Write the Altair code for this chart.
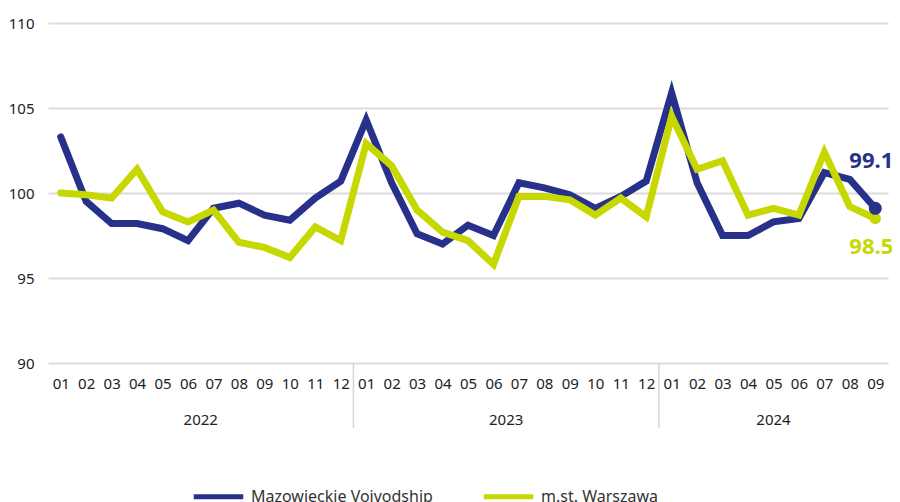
import json
import altair as alt
import pandas as pd

years = ["2022"] * 12 + ["2023"] * 12 + ["2024"] * 9
months = [f"{m:02d}" for m in range(1, 13)] * 2 + [f"{m:02d}" for m in range(1, 10)]

mazowieckie = [103.3, 99.5, 98.2, 98.2, 97.9, 97.2, 99.1, 99.4, 98.7, 98.4, 99.7, 100.7,
               104.3, 100.6, 97.6, 97.0, 98.1, 97.5, 100.6, 100.3, 99.9, 99.1, 99.8, 100.7,
               105.9, 100.6, 97.5, 97.5, 98.3, 98.5, 101.2, 100.8, 99.1]
warszawa = [100.0, 99.9, 99.7, 101.4, 98.9, 98.3, 99.0, 97.1, 96.8, 96.2, 98.0, 97.2,
            102.9, 101.6, 99.0, 97.7, 97.2, 95.8, 99.8, 99.8, 99.6, 98.7, 99.7, 98.6,
            104.5, 101.4, 101.9, 98.7, 99.1, 98.7, 102.4, 99.2, 98.5]

series_names = ["Mazowieckie Voivodship", "m.st. Warszawa"]
series_colors = ["#283189", "#C6D800"]

rows = []
for i, (y, m) in enumerate(zip(years, months)):
    rows.append({"idx": i, "year": y, "month": m, "series": series_names[0], "value": mazowieckie[i]})
    rows.append({"idx": i, "year": y, "month": m, "series": series_names[1], "value": warszawa[i]})
df = pd.DataFrame(rows)

base_idx = pd.DataFrame({"idx": list(range(len(years))), "year": years})
year_df = base_idx.groupby("year", as_index=False)["idx"].mean()
sep_df = base_idx.groupby("year", as_index=False)["idx"].min().iloc[1:].copy()
sep_df["idx"] = sep_df["idx"] - 0.5

FONT = "Noto Sans"
W, H = 840, 340

x_axis = alt.Axis(
    values=list(range(len(months))),
    labelExpr=f"{json.dumps(months)}[datum.value]",
    title=None, grid=False, ticks=False, domain=False,
    labelPadding=13, labelFontSize=15, labelColor="#222222", labelFont=FONT,
    labelFlush=False, labelOverlap=False,
)
x_scale = alt.Scale(domain=[-0.5, len(months) - 0.5], nice=False, zero=False)


def X():
    return alt.X("idx:Q", scale=x_scale, axis=x_axis)


color_scale = alt.Scale(domain=series_names, range=series_colors)
legend = alt.Legend(
    title=None, orient="none", legendX=143, legendY=446, direction="horizontal",
    symbolType="stroke", symbolStrokeWidth=5, symbolSize=2450,
    labelFontSize=16, labelColor="#333333", labelFont=FONT, labelOffset=5,
    columnPadding=40, labelLimit=400, padding=0,
)
color = alt.Color("series:N", scale=color_scale, legend=legend)

y_enc = alt.Y(
    "value:Q",
    scale=alt.Scale(domain=[90, 110], nice=False, zero=False),
    axis=alt.Axis(
        values=[90, 95, 100, 105, 110], title=None, ticks=False, domain=False,
        grid=True, gridColor="#dcdcdc", gridWidth=2,
        labelPadding=14, labelFontSize=15, labelColor="#222222", labelFont=FONT,
    ),
)

line_m = alt.Chart(df).transform_filter(
    alt.datum.series == series_names[0]
).mark_line(strokeWidth=7, strokeCap="round").encode(x=X(), y=y_enc, color=color)

line_w = alt.Chart(df).transform_filter(
    alt.datum.series == series_names[1]
).mark_line(strokeWidth=7, strokeCap="round").encode(x=X(), y=y_enc, color=color)

last = len(months) - 1
dot_w = alt.Chart(df).transform_filter(
    (alt.datum.idx == last) & (alt.datum.series == series_names[1])
).mark_circle(size=130, opacity=1).encode(x=X(), y=y_enc, color=color)

dot_m = alt.Chart(df).transform_filter(
    (alt.datum.idx == last) & (alt.datum.series == series_names[0])
).mark_circle(size=170, opacity=1).encode(x=X(), y=y_enc, color=color)

lab_m = alt.Chart(df).transform_filter(
    (alt.datum.idx == last) & (alt.datum.series == series_names[0])
).mark_text(dy=-47, dx=-4, fontSize=22, fontWeight="bold", font=FONT, align="center",
            baseline="middle", color=series_colors[0]).encode(
    x=X(), y=y_enc, text=alt.Text("value:Q", format=".1f"))

lab_w = alt.Chart(df).transform_filter(
    (alt.datum.idx == last) & (alt.datum.series == series_names[1])
).mark_text(dy=28, dx=-4, fontSize=22, fontWeight="bold", font=FONT, align="center",
            baseline="middle", color=series_colors[1]).encode(
    x=X(), y=y_enc, text=alt.Text("value:Q", format=".1f"))

year_text = alt.Chart(year_df).mark_text(
    fontSize=15, font=FONT, color="#222222", baseline="middle", align="center"
).encode(x=X(), y=alt.value(397), text="year:N")

seps = alt.Chart(sep_df).mark_rule(color="#d6d6d6", strokeWidth=1.5).encode(
    x=X(), y=alt.value(H), y2=alt.value(H + 65))

chart = alt.layer(
    seps, year_text, line_m, line_w, dot_w, dot_m, lab_m, lab_w
).properties(
    width=W, height=H,
    autosize=alt.AutoSizeParams(type="none"),
    padding={"left": 40, "top": 15, "right": 4, "bottom": 150},
).configure(font=FONT, view=alt.ViewConfig(stroke=None))

chart.save("out.html", embed_options={"renderer": "svg", "actions": False})
